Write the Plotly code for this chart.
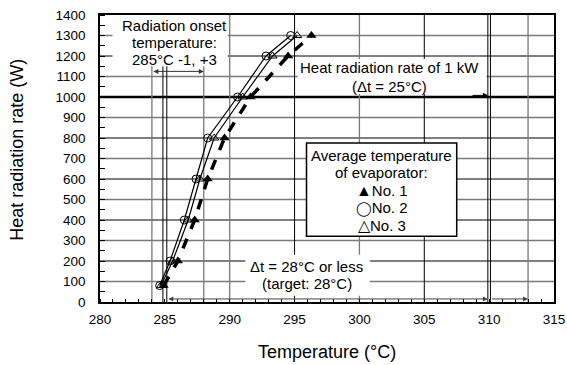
import plotly.graph_objects as go

# ---- data ----
power_w = [80, 200, 400, 600, 800, 1000, 1200, 1300]
temp_no1 = [284.9, 286.0, 287.3, 288.3, 289.6, 291.6, 294.5, 296.3]
temp_no2 = [284.6, 285.4, 286.5, 287.4, 288.3, 290.6, 292.8, 294.7]
temp_no3 = [284.7, 285.6, 286.8, 287.7, 288.8, 291.0, 293.3, 295.2]

x_tick_vals = [280, 285, 290, 295, 300, 305, 310, 315]
y_tick_vals = [0, 100, 200, 300, 400, 500, 600, 700, 800, 900, 1000, 1100, 1200, 1300, 1400]

onset_range = [284, 288]          # 285 degC -1, +3
onset_lines = [284.85, 285.15]    # radiation onset
target_lines = [309.9, 310.1]     # dt = 25 degC (1 kW)
limit_line = 313                  # dt = 28 degC
grid_x_gray = [290, 300]
grid_x_black = [295, 305]
rate_1kw = 1000

x_title = "Temperature (°C)"
y_title = "Heat radiation rate (W)"
onset_text = ["Radiation onset", "temperature:", "285°C -1, +3"]
kw_text = ["Heat radiation rate of 1 kW", "(Δt = 25°C)"]
dt_text = ["Δt = 28°C or less", "(target: 28°C)"]
legend_text = ["Average temperature", "of evaporator:",
               "<span style='font-size:16px'>▲</span>No. 1",
               "<span style='font-family:DejaVu Sans;font-size:14px'>◯</span>No. 2",
               "<span style='font-size:16px'>△</span>No. 3"]

FONT = "Arial, Liberation Sans, sans-serif"
GRAY = "#7a7a7a"

fig = go.Figure()

fig.add_trace(go.Scatter(x=temp_no1, y=power_w, mode="lines+markers", name="No. 1",
                         line=dict(color="black", width=3.5, dash="dash"),
                         marker=dict(symbol="triangle-up", size=9, color="black")))
fig.add_trace(go.Scatter(x=temp_no3, y=power_w, mode="lines+markers", name="No. 3",
                         line=dict(color="black", width=1.2),
                         marker=dict(symbol="triangle-up-open", size=8, color="black")))
fig.add_trace(go.Scatter(x=temp_no2, y=power_w, mode="lines+markers", name="No. 2",
                         line=dict(color="black", width=1.2),
                         marker=dict(symbol="circle-open", size=8, color="black")))

shapes = []
# horizontal grid
for v in y_tick_vals[1:-1]:
    if v == rate_1kw:
        col, w = "black", 2.5
    elif (v // 100) % 2 == 0:
        col, w = "black", 1
    else:
        col, w = GRAY, 1.3
    shapes.append(dict(type="line", xref="x", yref="y", x0=280, x1=315, y0=v, y1=v,
                       line=dict(color=col, width=w), layer="below"))
# vertical lines
for v in grid_x_gray + onset_range + [limit_line]:
    shapes.append(dict(type="line", xref="x", yref="y", x0=v, x1=v, y0=0, y1=1400,
                       line=dict(color=GRAY, width=1.3), layer="below"))
for v in grid_x_black + onset_lines + target_lines:
    shapes.append(dict(type="line", xref="x", yref="y", x0=v, x1=v, y0=0, y1=1400,
                       line=dict(color="black", width=1), layer="below"))

# white text backgrounds (cover grid lines) and the legend frame
def white_box(x0, x1, y0, y1, border=False):
    d = dict(type="rect", xref="x", yref="y", x0=x0, x1=x1, y0=y0, y1=y1,
             fillcolor="white", layer="above", line=dict(width=0))
    if border:
        d["line"] = dict(color="black", width=1.5)
    return d

shapes.append(white_box(280.97, 289.85, 1150, 1400))
shapes.append(white_box(295.25, 309.8, 1015, 1185))
shapes.append(white_box(291.2, 300.8, 30, 230))
shapes.append(white_box(295.92, 307.5, 321, 776, border=True))
fig.update_layout(shapes=shapes)

ann = []
def text_lines(lines, xc, ys):
    for t, yv in zip(lines, ys):
        ann.append(dict(x=xc, y=yv, xref="x", yref="y", showarrow=False, text=t,
                        font=dict(family=FONT, size=15, color="black"), align="center"))

text_lines(onset_text, 285.75, [1351, 1268, 1185])
text_lines(kw_text, 302.35, [1143, 1051])
text_lines(dt_text, 295.95, [174, 91])
text_lines(legend_text, 301.71, [716, 633, 545, 457, 374])

ann.append(dict(x=onset_range[1], y=1125, ax=onset_range[0], ay=1125, xref="x", yref="y",
                axref="x", ayref="y", text="", showarrow=True, arrowside="end+start",
                arrowhead=2, arrowsize=1, arrowwidth=1, arrowcolor="#333"))
ann.append(dict(x=target_lines[0], y=1008, ax=308.6, ay=1008, xref="x", yref="y",
                axref="x", ayref="y", text="", showarrow=True,
                arrowhead=2, arrowsize=1, arrowwidth=1, arrowcolor="black"))
ann.append(dict(x=target_lines[0], y=15, ax=onset_lines[1], ay=15, xref="x", yref="y",
                axref="x", ayref="y", text="", showarrow=True, arrowside="end+start",
                arrowhead=2, arrowsize=1, arrowwidth=1, arrowcolor="#444"))
ann.append(dict(x=limit_line, y=15, ax=target_lines[1], ay=15, xref="x", yref="y",
                axref="x", ayref="y", text="", showarrow=True,
                arrowhead=2, arrowsize=1, arrowwidth=1, arrowcolor="#444"))

# axis titles
ann.append(dict(x=0.5, y=-0.174, xref="paper", yref="paper", showarrow=False,
                text=x_title, font=dict(family=FONT, size=18, color="black"),
                xanchor="center", yanchor="middle"))
ann.append(dict(x=-0.183, y=0.53, xref="paper", yref="paper", showarrow=False,
                text=y_title, textangle=-90, font=dict(family=FONT, size=18, color="black"),
                xanchor="center", yanchor="middle"))
fig.update_layout(annotations=ann)

fig.update_layout(
    width=567, height=365,
    margin=dict(l=100, r=13, t=15, b=63),
    paper_bgcolor="white", plot_bgcolor="white",
    showlegend=False,
    font=dict(family=FONT, size=13.5, color="black"),
    xaxis=dict(range=[280, 315], tickvals=x_tick_vals, showgrid=False, zeroline=False,
               showline=True, linecolor="black", linewidth=1.5, mirror=True,
               ticks="", ticklabelstandoff=4, automargin=False,
               minor=dict(dtick=1, ticks="inside", ticklen=3, tickcolor="black", showgrid=False)),
    yaxis=dict(range=[0, 1400], tickvals=y_tick_vals, showgrid=False, zeroline=False,
               showline=True, linecolor="black", linewidth=1.5, mirror=True,
               ticks="", ticklabelstandoff=10, automargin=False,
               minor=dict(dtick=50, ticks="inside", ticklen=5, tickcolor="black", showgrid=False)),
)

fig.write_html("out.html")
